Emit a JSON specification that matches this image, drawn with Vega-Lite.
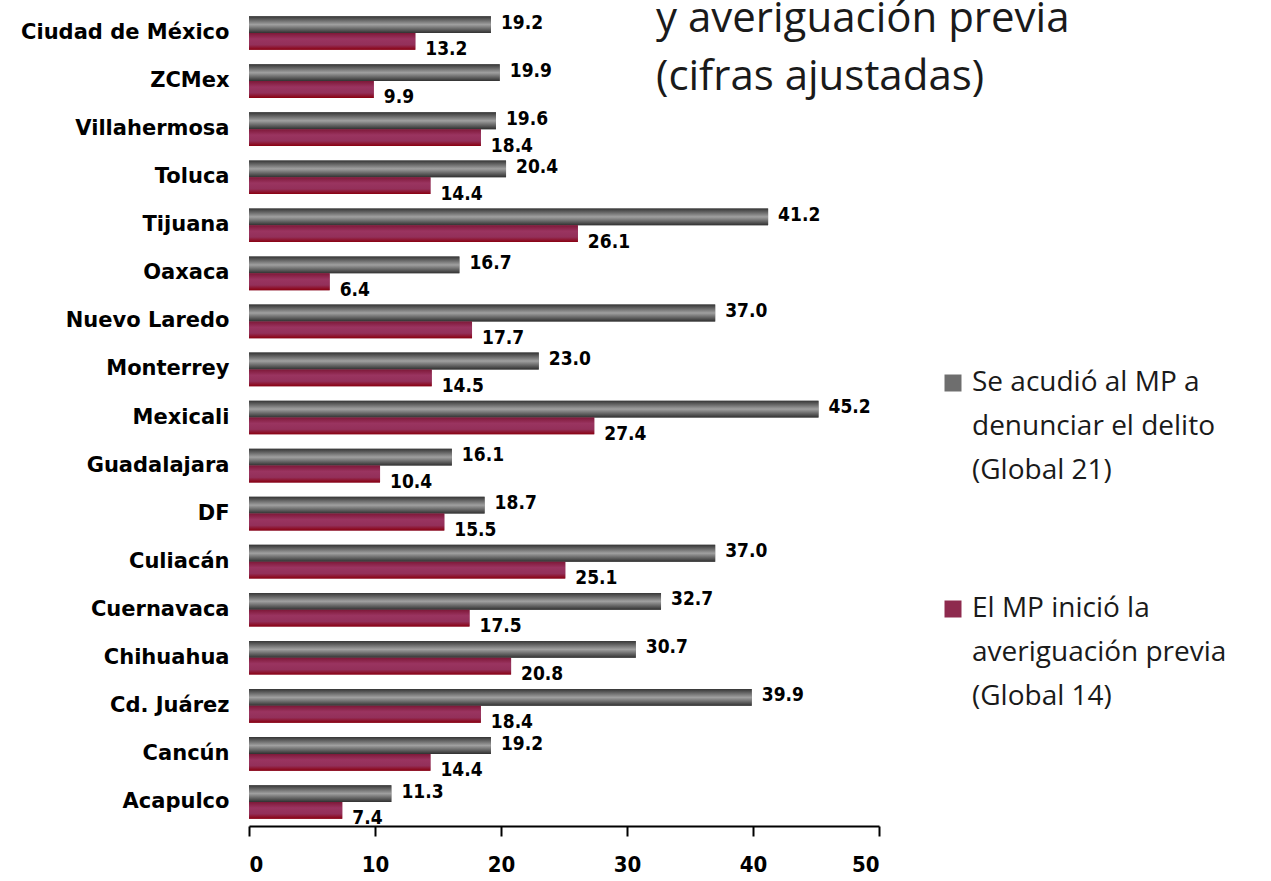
{
  "$schema": "https://vega.github.io/schema/vega-lite/v6.json",
  "autosize": "none",
  "width": 630,
  "height": 817,
  "padding": {"left": 249, "top": 9, "right": 392, "bottom": 55},
  "background": "white",
  "title": {
    "text": ["y averiguación previa", "(cifras ajustadas)"],
    "anchor": "start",
    "frame": "group",
    "orient": "top",
    "baseline": "alphabetic",
    "dx": 407,
    "dy": 127,
    "font": "Open Sans",
    "fontWeight": "normal",
    "fontSize": 42,
    "lineHeight": 58,
    "color": "#1a1a1a"
  },
  "data": {
    "values": [
      {"ciudad": "Ciudad de México", "serie": "Se acudió al MP a|denunciar el delito|(Global 21)", "valor": 19.2},
      {"ciudad": "Ciudad de México", "serie": "El MP inició la|averiguación previa|(Global 14)", "valor": 13.2},
      {"ciudad": "ZCMex", "serie": "Se acudió al MP a|denunciar el delito|(Global 21)", "valor": 19.9},
      {"ciudad": "ZCMex", "serie": "El MP inició la|averiguación previa|(Global 14)", "valor": 9.9},
      {"ciudad": "Villahermosa", "serie": "Se acudió al MP a|denunciar el delito|(Global 21)", "valor": 19.6},
      {"ciudad": "Villahermosa", "serie": "El MP inició la|averiguación previa|(Global 14)", "valor": 18.4},
      {"ciudad": "Toluca", "serie": "Se acudió al MP a|denunciar el delito|(Global 21)", "valor": 20.4},
      {"ciudad": "Toluca", "serie": "El MP inició la|averiguación previa|(Global 14)", "valor": 14.4},
      {"ciudad": "Tijuana", "serie": "Se acudió al MP a|denunciar el delito|(Global 21)", "valor": 41.2},
      {"ciudad": "Tijuana", "serie": "El MP inició la|averiguación previa|(Global 14)", "valor": 26.1},
      {"ciudad": "Oaxaca", "serie": "Se acudió al MP a|denunciar el delito|(Global 21)", "valor": 16.7},
      {"ciudad": "Oaxaca", "serie": "El MP inició la|averiguación previa|(Global 14)", "valor": 6.4},
      {"ciudad": "Nuevo Laredo", "serie": "Se acudió al MP a|denunciar el delito|(Global 21)", "valor": 37.0},
      {"ciudad": "Nuevo Laredo", "serie": "El MP inició la|averiguación previa|(Global 14)", "valor": 17.7},
      {"ciudad": "Monterrey", "serie": "Se acudió al MP a|denunciar el delito|(Global 21)", "valor": 23.0},
      {"ciudad": "Monterrey", "serie": "El MP inició la|averiguación previa|(Global 14)", "valor": 14.5},
      {"ciudad": "Mexicali", "serie": "Se acudió al MP a|denunciar el delito|(Global 21)", "valor": 45.2},
      {"ciudad": "Mexicali", "serie": "El MP inició la|averiguación previa|(Global 14)", "valor": 27.4},
      {"ciudad": "Guadalajara", "serie": "Se acudió al MP a|denunciar el delito|(Global 21)", "valor": 16.1},
      {"ciudad": "Guadalajara", "serie": "El MP inició la|averiguación previa|(Global 14)", "valor": 10.4},
      {"ciudad": "DF", "serie": "Se acudió al MP a|denunciar el delito|(Global 21)", "valor": 18.7},
      {"ciudad": "DF", "serie": "El MP inició la|averiguación previa|(Global 14)", "valor": 15.5},
      {"ciudad": "Culiacán", "serie": "Se acudió al MP a|denunciar el delito|(Global 21)", "valor": 37.0},
      {"ciudad": "Culiacán", "serie": "El MP inició la|averiguación previa|(Global 14)", "valor": 25.1},
      {"ciudad": "Cuernavaca", "serie": "Se acudió al MP a|denunciar el delito|(Global 21)", "valor": 32.7},
      {"ciudad": "Cuernavaca", "serie": "El MP inició la|averiguación previa|(Global 14)", "valor": 17.5},
      {"ciudad": "Chihuahua", "serie": "Se acudió al MP a|denunciar el delito|(Global 21)", "valor": 30.7},
      {"ciudad": "Chihuahua", "serie": "El MP inició la|averiguación previa|(Global 14)", "valor": 20.8},
      {"ciudad": "Cd. Juárez", "serie": "Se acudió al MP a|denunciar el delito|(Global 21)", "valor": 39.9},
      {"ciudad": "Cd. Juárez", "serie": "El MP inició la|averiguación previa|(Global 14)", "valor": 18.4},
      {"ciudad": "Cancún", "serie": "Se acudió al MP a|denunciar el delito|(Global 21)", "valor": 19.2},
      {"ciudad": "Cancún", "serie": "El MP inició la|averiguación previa|(Global 14)", "valor": 14.4},
      {"ciudad": "Acapulco", "serie": "Se acudió al MP a|denunciar el delito|(Global 21)", "valor": 11.3},
      {"ciudad": "Acapulco", "serie": "El MP inició la|averiguación previa|(Global 14)", "valor": 7.4}
    ]
  },
  "encoding": {
    "y": {
      "field": "ciudad",
      "type": "nominal",
      "sort": null,
      "scale": {"paddingInner": 0.3, "paddingOuter": 0.15},
      "axis": {
        "title": null,
        "domain": false,
        "ticks": false,
        "labelFont": "DejaVu Sans",
        "labelFontWeight": "bold",
        "labelFontSize": 21,
        "labelColor": "#000000",
        "labelPadding": 20,
        "labelLimit": 300
      }
    },
    "yOffset": {
      "field": "serie",
      "type": "nominal",
      "sort": ["Se acudió al MP a|denunciar el delito|(Global 21)", "El MP inició la|averiguación previa|(Global 14)"],
      "scale": {"paddingInner": 0, "paddingOuter": 0}
    },
    "x": {
      "field": "valor",
      "type": "quantitative",
      "scale": {"domain": [0, 50]},
      "axis": {
        "title": null,
        "values": [0, 10, 20, 30, 40, 50],
        "grid": false,
        "domainColor": "#000000",
        "domainWidth": 2,
        "tickColor": "#000000",
        "tickWidth": 2,
        "tickSize": 10,
        "labelFont": "DejaVu Sans Condensed, sans-serif",
        "labelFontWeight": "bold",
        "labelFontSize": 22,
        "labelColor": "#000000",
        "labelPadding": 18
      }
    }
  },
  "layer": [
    {
      "mark": {"type": "bar"},
      "encoding": {
        "color": {
          "field": "serie",
          "type": "nominal",
          "sort": ["Se acudió al MP a|denunciar el delito|(Global 21)", "El MP inició la|averiguación previa|(Global 14)"],
          "scale": {
            "domain": ["Se acudió al MP a|denunciar el delito|(Global 21)", "El MP inició la|averiguación previa|(Global 14)"],
            "range": ["#6e6e6e", "#8e2a4e"]
          },
          "legend": {
            "orient": "none",
            "legendX": 690,
            "legendY": 360,
            "title": null,
            "symbolType": "square",
            "symbolSize": 289,
            "symbolStrokeWidth": 0,
            "symbolOpacity": 1,
            "labelExpr": "split(datum.label, '|')",
            "labelFont": "Open Sans",
            "labelFontWeight": "normal",
            "labelFontSize": 28,
            "labelColor": "#1a1a1a",
            "labelBaseline": "top",
            "labelOffset": 5,
            "labelLimit": 400,
            "rowPadding": 110,
            "encode": {
              "labels": {"update": {"lineHeight": {"value": 44}, "dy": {"value": -14}}}
            }
          }
        }
      }
    },
    {
      "mark": {"type": "bar"},
      "encoding": {
        "fill": {
          "condition": {
            "test": "datum.serie === 'Se acudió al MP a|denunciar el delito|(Global 21)'",
            "value": {
              "gradient": "linear", "x1": 0, "y1": 0, "x2": 0, "y2": 1,
              "stops": [
                {"offset": 0, "color": "#353535"},
                {"offset": 0.5, "color": "#a0a0a0"},
                {"offset": 1, "color": "#303030"}
              ]
            }
          },
          "value": {
            "gradient": "linear", "x1": 0, "y1": 0, "x2": 0, "y2": 1,
            "stops": [
              {"offset": 0, "color": "#7e1838"},
              {"offset": 0.35, "color": "#9a3460"},
              {"offset": 0.7, "color": "#93305a"},
              {"offset": 1, "color": "#8a0010"}
            ]
          }
        }
      }
    },
    {
      "transform": [{"filter": "datum.serie === 'Se acudió al MP a|denunciar el delito|(Global 21)'"}],
      "mark": {"type": "text", "align": "left", "baseline": "middle", "dx": 10, "dy": -2, "font": "DejaVu Sans Condensed, sans-serif", "fontWeight": "bold", "fontSize": 19, "color": "#000000"},
      "encoding": {"text": {"field": "valor", "type": "quantitative", "format": ".1f"}}
    },
    {
      "transform": [{"filter": "datum.serie !== 'Se acudió al MP a|denunciar el delito|(Global 21)'"}],
      "mark": {"type": "text", "align": "left", "baseline": "middle", "dx": 10, "dy": 8, "font": "DejaVu Sans Condensed, sans-serif", "fontWeight": "bold", "fontSize": 19, "color": "#000000"},
      "encoding": {"text": {"field": "valor", "type": "quantitative", "format": ".1f"}}
    }
  ],
  "config": {"view": {"stroke": null}}
}
